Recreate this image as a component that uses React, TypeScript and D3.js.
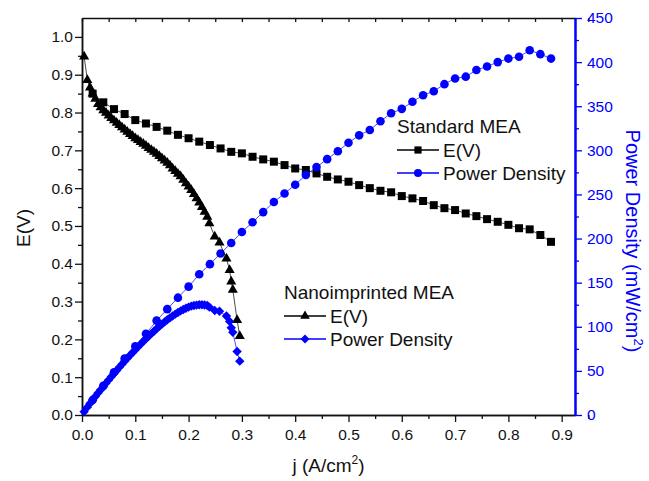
import React, { useEffect, useRef } from "react";
import * as d3 from "d3";

// Standard MEA: current density, cell voltage, power density
const stdJ = [0.02, 0.04, 0.06, 0.08, 0.10, 0.12, 0.14, 0.16, 0.18, 0.20, 0.22, 0.24, 0.26, 0.28, 0.30,
  0.32, 0.34, 0.36, 0.38, 0.40, 0.42, 0.44, 0.46, 0.48, 0.50, 0.52, 0.54, 0.56, 0.58, 0.60, 0.62, 0.64,
  0.66, 0.68, 0.70, 0.72, 0.74, 0.76, 0.78, 0.80, 0.82, 0.84, 0.86, 0.88];
const stdE = [0.850, 0.827, 0.809, 0.796, 0.780, 0.771, 0.762, 0.752, 0.741, 0.732, 0.723, 0.714, 0.705, 0.696, 0.692,
  0.683, 0.676, 0.670, 0.661, 0.652, 0.648, 0.639, 0.630, 0.623, 0.617, 0.608, 0.600, 0.593, 0.589, 0.579, 0.573, 0.566,
  0.555, 0.547, 0.542, 0.533, 0.526, 0.518, 0.511, 0.503, 0.494, 0.491, 0.476, 0.458];
const stdP = [17, 33, 48.5, 64, 78, 92, 107, 120, 133, 145.5, 159.5, 171, 183, 195, 207.5,
  218.5, 230, 241.5, 251, 261, 272, 281, 290, 299, 308.5, 317, 323, 333, 342, 347, 355, 362.5,
  367, 375, 381.5, 383.5, 391, 395, 400, 404, 406, 413.5, 409, 404];

// Nanoimprinted MEA
const nanoJ = [0.004, 0.010, 0.015, 0.020, 0.025, 0.030, 0.035, 0.040, 0.045, 0.050, 0.055, 0.060, 0.065, 0.070,
  0.075, 0.080, 0.085, 0.090, 0.095, 0.100, 0.105, 0.110, 0.115, 0.120, 0.125, 0.130, 0.135, 0.140, 0.145, 0.150,
  0.155, 0.160, 0.165, 0.170, 0.175, 0.180, 0.185, 0.190, 0.195, 0.200, 0.205, 0.210, 0.215, 0.220, 0.225, 0.230,
  0.235, 0.239, 0.249, 0.258, 0.271, 0.277, 0.280, 0.283, 0.291, 0.296];
const nanoE = [0.948, 0.886, 0.866, 0.850, 0.836, 0.822, 0.814, 0.806, 0.799, 0.792, 0.785, 0.779, 0.773, 0.767,
  0.761, 0.755, 0.749, 0.743, 0.738, 0.732, 0.727, 0.722, 0.717, 0.712, 0.706, 0.701, 0.696, 0.691, 0.685, 0.679,
  0.673, 0.667, 0.660, 0.652, 0.645, 0.638, 0.631, 0.622, 0.613, 0.604, 0.595, 0.584, 0.573, 0.562, 0.550, 0.537,
  0.524, 0.507, 0.472, 0.456, 0.414, 0.383, 0.353, 0.331, 0.251, 0.209];
const nanoP = [3.8, 8.9, 13.0, 17.0, 21, 24.8, 28.6, 32.3, 36.1, 39.8, 43.4, 47, 50.5, 54,
  57.5, 61, 64.3, 67.6, 70.9, 74, 77.2, 80.3, 83.4, 86.4, 89.3, 92.2, 95, 97.8, 100.4, 103,
  105.5, 107.9, 110.1, 112.2, 114.3, 116.2, 118, 119.6, 121, 122.3, 123.4, 124.1, 124.6, 124.9, 125, 124.7,
  124.1, 122.3, 118.5, 117.6, 112.2, 106.1, 98.8, 93.7, 72, 61];

const jTicks = [0, 0.1, 0.2, 0.3, 0.4, 0.5, 0.6, 0.7, 0.8, 0.9];
const eTicks = [0, 0.1, 0.2, 0.3, 0.4, 0.5, 0.6, 0.7, 0.8, 0.9, 1.0];
const pTicks = [0, 50, 100, 150, 200, 250, 300, 350, 400, 450];

const BLUE = "#0000ff";
const INK = "#111";
const FONT = "'Liberation Sans', Arial, sans-serif";

export default function App() {
  const ref = useRef<SVGSVGElement>(null);

  useEffect(() => {
    const svg = d3.select(ref.current);
    svg.selectAll("*").remove();

    const left = 82, right = 575, top = 18, bottom = 415;

    const x = d3.scaleLinear().domain([0, 0.925]).range([left, right]);
    const yE = d3.scaleLinear().domain([0, 1.05]).range([bottom, top]);
    const yP = d3.scaleLinear().domain([0, 450]).range([bottom, top]);

    const minor = (ticks: number[], step: number) => ticks.map((t) => t + step / 2);

    // bottom axis
    svg.append("g").attr("transform", `translate(0,${bottom})`)
      .call(d3.axisBottom(x).tickValues(jTicks).tickFormat(d3.format(".1f")).tickSize(7).tickSizeOuter(0).tickPadding(7));
    svg.append("g").attr("transform", `translate(0,${bottom})`)
      .call(d3.axisBottom(x).tickValues(minor(jTicks, 0.1)).tickFormat(() => "").tickSize(4).tickSizeOuter(0));

    // top frame with inward ticks
    svg.append("g").attr("transform", `translate(0,${top})`)
      .call(d3.axisBottom(x).tickValues([...jTicks, ...minor(jTicks, 0.1)]).tickFormat(() => "").tickSize(4).tickSizeOuter(0));

    // left axis
    svg.append("g").attr("transform", `translate(${left},0)`)
      .call(d3.axisLeft(yE).tickValues(eTicks).tickFormat(d3.format(".1f")).tickSize(7).tickSizeOuter(0).tickPadding(2));
    svg.append("g").attr("transform", `translate(${left},0)`)
      .call(d3.axisLeft(yE).tickValues(minor(eTicks, 0.1).slice(0, -1)).tickFormat(() => "").tickSize(4).tickSizeOuter(0));

    // right axis
    svg.append("g").attr("class", "blue").attr("transform", `translate(${right},0)`)
      .call(d3.axisRight(yP).tickValues(pTicks).tickFormat(d3.format("d")).tickSize(7).tickSizeOuter(0).tickPadding(5));
    svg.append("g").attr("class", "blue").attr("transform", `translate(${right},0)`)
      .call(d3.axisRight(yP).tickValues(minor(pTicks, 50).slice(0, -1)).tickFormat(() => "").tickSize(4).tickSizeOuter(0));

    svg.selectAll(".domain").attr("stroke", INK).attr("stroke-width", 1.5);
    svg.selectAll(".tick line").attr("stroke", INK).attr("stroke-width", 1.3);
    svg.selectAll(".tick text").attr("fill", INK).style("font-size", "15.5px").style("font-family", FONT);
    svg.selectAll(".blue .domain").attr("stroke", BLUE).attr("stroke-width", 2);
    svg.selectAll(".blue .tick line").attr("stroke", BLUE);
    svg.selectAll(".blue .tick text").attr("fill", BLUE);

    // axis titles
    svg.append("text").attr("transform", `translate(30,228) rotate(-90)`)
      .attr("text-anchor", "middle").style("font-family", FONT).style("font-size", "19px").attr("fill", INK)
      .text("E(V)");

    const xt = svg.append("text").attr("x", (left + right) / 2).attr("y", 472)
      .attr("text-anchor", "middle").style("font-family", FONT).style("font-size", "19px").attr("fill", INK);
    xt.append("tspan").text("j (A/cm");
    xt.append("tspan").attr("dy", -8).style("font-size", "12px").text("2");
    xt.append("tspan").attr("dy", 8).text(")");

    const rt = svg.append("text").attr("transform", `translate(626,241) rotate(90)`)
      .attr("text-anchor", "middle").style("font-family", FONT).style("font-size", "20px").attr("fill", BLUE);
    rt.append("tspan").text("Power Density (mW/cm");
    rt.append("tspan").attr("dy", -8).style("font-size", "13px").text("2");
    rt.append("tspan").attr("dy", 8).text(")");

    // series
    const plot = svg.append("g");
    const drawSeries = (js: number[], vs: number[], ys: d3.ScaleLinear<number, number>, color: string,
      sym: d3.SymbolType, size: number, rot: number) => {
      const pts = js.map((j, i) => [x(j), ys(vs[i])] as [number, number]);
      plot.append("path").attr("d", d3.line()(pts)).attr("fill", "none")
        .attr("stroke", color).attr("stroke-width", 1).attr("opacity", 0.7);
      plot.selectAll(null).data(pts).enter().append("path")
        .attr("d", d3.symbol(sym, size)())
        .attr("transform", (d) => `translate(${d[0]},${d[1]}) rotate(${rot})`)
        .attr("fill", color);
    };

    drawSeries(stdJ, stdE, yE, "#000", d3.symbolSquare, 64, 0);
    drawSeries(stdJ, stdP, yP, BLUE, d3.symbolCircle, 58, 0);
    drawSeries(nanoJ, nanoE, yE, "#000", d3.symbolTriangle, 44, 0);
    drawSeries(nanoJ, nanoP, yP, BLUE, d3.symbolSquare, 44, 45);

    // legends
    const legend = (lx: number, ty: number, title: string, items: [string, string, d3.SymbolType, number, number][]) => {
      const g = svg.append("g").style("font-family", FONT).style("font-size", "19px");
      g.append("text").attr("x", lx).attr("y", ty).attr("dy", "0.35em").attr("fill", INK).text(title);
      items.forEach(([label, color, sym, size, rot], i) => {
        const yy = ty + 24 + i * 23;
        g.append("line").attr("x1", lx).attr("x2", lx + 42).attr("y1", yy).attr("y2", yy)
          .attr("stroke", color).attr("stroke-width", 1.5);
        g.append("path").attr("d", d3.symbol(sym, size)())
          .attr("transform", `translate(${lx + 21},${yy}) rotate(${rot})`).attr("fill", color);
        g.append("text").attr("x", lx + 46).attr("y", yy).attr("dy", "0.35em").attr("fill", INK).text(label);
      });
    };

    legend(397, 126, "Standard MEA", [
      ["E(V)", "#000", d3.symbolSquare, 52, 0],
      ["Power Density", BLUE, d3.symbolCircle, 50, 0],
    ]);
    legend(284, 292, "Nanoimprinted MEA", [
      ["E(V)", "#000", d3.symbolTriangle, 40, 0],
      ["Power Density", BLUE, d3.symbolSquare, 40, 45],
    ]);
  }, []);

  return (
    <svg ref={ref} width={649} height={481}
      style={{ position: "absolute", left: 0, top: 0, background: "#fff" }} />
  );
}
